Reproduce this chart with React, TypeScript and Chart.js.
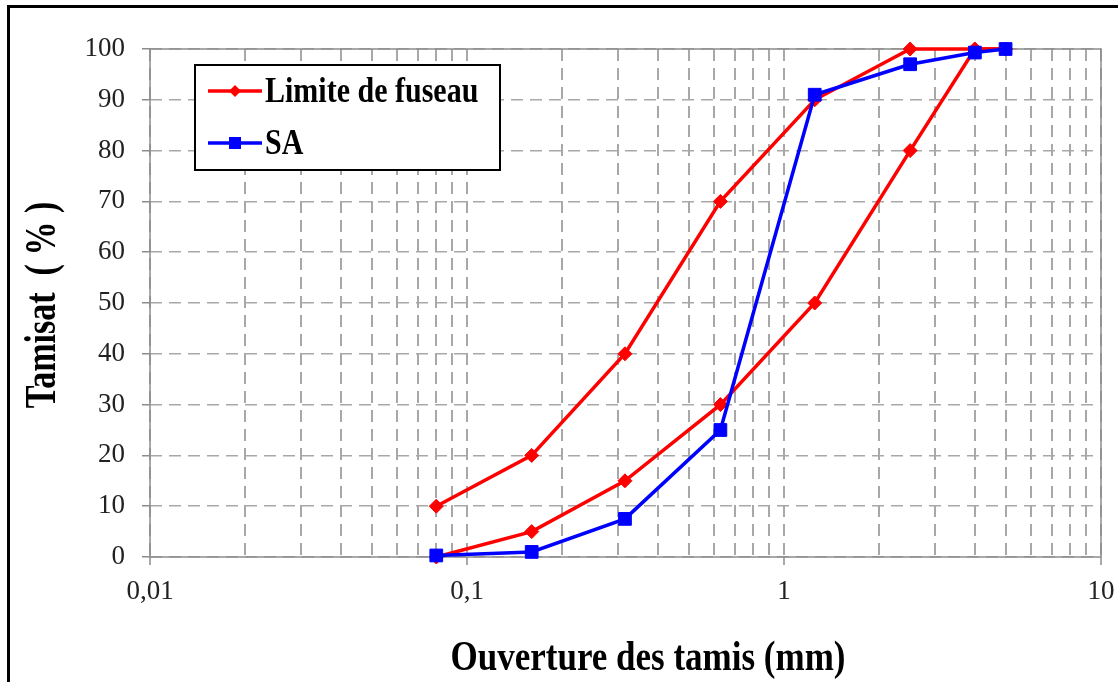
import React, { useEffect, useRef } from 'react';
import { Chart, registerables } from 'chart.js';

Chart.register(...registerables);

// ---- data ----
const sieveOpenings = [0.08, 0.16, 0.315, 0.63, 1.25, 2.5, 4, 5];
const upperLimit = [10, 20, 40, 70, 90, 100, 100, 100];
const lowerLimit = [0, 5, 15, 30, 50, 80, 100, 100];
const saPassing = [0.3, 1, 7.5, 25, 91, 97, 99.3, 100];

const xDecades = [0.01, 0.1, 1, 10];
const xDecadeLabels = ['0,01', '0,1', '1', '10'];

const limitName = 'Limite de fuseau';
const saName = 'SA';
const xTitle = 'Ouverture des tamis (mm)';
const yTitle = 'Tamisat  ( % )';

const RED = '#ff0000';
const BLUE = '#0000ff';
const SERIF = "'Liberation Serif', 'Times New Roman', serif";

function drawStretched(
  ctx: CanvasRenderingContext2D,
  text: string,
  x: number,
  y: number,
  font: string,
  sy: number,
  align: CanvasTextAlign,
  rotate: boolean
) {
  ctx.save();
  ctx.translate(x, y);
  if (rotate) ctx.rotate(-Math.PI / 2);
  ctx.scale(1, sy);
  ctx.font = font;
  ctx.textAlign = align;
  ctx.textBaseline = 'alphabetic';
  ctx.fillStyle = '#000';
  ctx.fillText(text, 0, 0);
  ctx.restore();
}

const plotBorderPlugin = {
  id: 'plotBorder',
  beforeDatasetsDraw(chart: any) {
    const { ctx, chartArea } = chart;
    ctx.save();
    ctx.strokeStyle = '#8c8c8c';
    ctx.lineWidth = 1.5;
    ctx.setLineDash([]);
    ctx.strokeRect(chartArea.left, chartArea.top, chartArea.right - chartArea.left, chartArea.bottom - chartArea.top);
    ctx.restore();
  },
};

const decorPlugin = {
  id: 'decor',
  afterDraw(chart: any) {
    const ctx: CanvasRenderingContext2D = chart.ctx;
    // outer black frame (left and top edges visible)
    ctx.save();
    ctx.strokeStyle = '#000';
    ctx.lineWidth = 3;
    ctx.beginPath();
    ctx.moveTo(8.5, 682);
    ctx.lineTo(8.5, 6.5);
    ctx.lineTo(1118, 6.5);
    ctx.stroke();
    ctx.restore();

    // axis titles
    drawStretched(ctx, xTitle, 648, 670, `bold 35px ${SERIF}`, 1.2, 'center', false);
    drawStretched(ctx, yTitle, 55, 305, `bold 34px ${SERIF}`, 1.3, 'center', true);

    // legend box
    const bx = 195, by = 65, bw = 305, bh = 105;
    ctx.save();
    ctx.fillStyle = '#fff';
    ctx.fillRect(bx, by, bw, bh);
    ctx.strokeStyle = '#000';
    ctx.lineWidth = 2;
    ctx.strokeRect(bx, by, bw, bh);
    ctx.restore();

    const entries = chart.data.datasets.filter((d: any) => !d.hideInLegend);
    const ordered = [...entries].sort((a: any, b: any) => a.legendOrder - b.legendOrder);
    const rowsY = [91, 143];
    ordered.forEach((ds: any, i: number) => {
      const y = rowsY[i];
      ctx.save();
      ctx.strokeStyle = ds.borderColor;
      ctx.lineWidth = 3.5;
      ctx.beginPath();
      ctx.moveTo(208, y);
      ctx.lineTo(262, y);
      ctx.stroke();
      ctx.fillStyle = ds.backgroundColor;
      ctx.beginPath();
      if (ds.pointStyle === 'rect') {
        ctx.rect(235 - 6, y - 6, 12, 12);
      } else {
        ctx.moveTo(235, y - 6);
        ctx.lineTo(241, y);
        ctx.lineTo(235, y + 6);
        ctx.lineTo(229, y);
        ctx.closePath();
      }
      ctx.fill();
      ctx.restore();
      drawStretched(ctx, ds.label, 265, y + 11, `bold 30px ${SERIF}`, 1.18, 'left', false);
    });
  },
};

export default function App() {
  const ref = useRef<HTMLCanvasElement>(null);

  useEffect(() => {
    const canvas = ref.current;
    if (!canvas) return;
    const pts = (ys: number[]) => sieveOpenings.map((x, i) => ({ x, y: ys[i] }));

    const chart = new Chart(canvas, {
      type: 'line',
      data: {
        datasets: [
          {
            label: saName,
            data: pts(saPassing),
            borderColor: BLUE,
            backgroundColor: BLUE,
            pointBackgroundColor: BLUE,
            pointBorderColor: BLUE,
            pointStyle: 'rect',
            pointRadius: 9,
            pointBorderWidth: 1,
            borderWidth: 3.5,
            tension: 0,
            clip: false,
            legendOrder: 2,
          } as any,
          {
            label: limitName,
            data: pts(upperLimit),
            borderColor: RED,
            backgroundColor: RED,
            pointBackgroundColor: RED,
            pointBorderColor: RED,
            pointStyle: 'rectRot',
            pointRadius: 7,
            pointBorderWidth: 1,
            borderWidth: 3.5,
            tension: 0,
            clip: false,
            legendOrder: 1,
          } as any,
          {
            label: limitName,
            data: pts(lowerLimit),
            borderColor: RED,
            backgroundColor: RED,
            pointBackgroundColor: RED,
            pointBorderColor: RED,
            pointStyle: 'rectRot',
            pointRadius: 7,
            pointBorderWidth: 1,
            borderWidth: 3.5,
            tension: 0,
            clip: false,
            hideInLegend: true,
          } as any,
        ],
      },
      options: {
        responsive: false,
        animation: false,
        events: [],
        layout: { padding: { left: 0, top: 49, right: 17, bottom: 0 } },
        plugins: {
          legend: { display: false },
          tooltip: { enabled: false },
          title: { display: false },
        },
        scales: {
          x: {
            type: 'logarithmic',
            min: 0.01,
            max: 10,
            afterBuildTicks: (scale: any) => {
              const t: { value: number }[] = [];
              for (let e = -2; e < 1; e++) {
                for (let m = 1; m < 10; m++) {
                  t.push({ value: Number((m * Math.pow(10, e)).toPrecision(3)) });
                }
              }
              t.push({ value: 10 });
              scale.ticks = t;
            },
            afterFit: (scale: any) => {
              scale.height = 125;
              scale.paddingLeft = 0;
              scale.paddingRight = 0;
            },
            ticks: {
              autoSkip: false,
              maxRotation: 0,
              minRotation: 0,
              padding: 11,
              color: '#222',
              font: { family: SERIF, size: 27 },
              callback: (value: any) => {
                const v = Number(value);
                const i = xDecades.findIndex((d) => Math.abs(d - v) < 1e-9);
                return i >= 0 ? xDecadeLabels[i] : '';
              },
            },
            grid: {
              color: '#a8a8a8',
              lineWidth: 2,
              tickLength: 8,
              tickWidth: 1.5,
              tickColor: (ctx: any) => {
                const v = ctx.tick ? ctx.tick.value : 0;
                return xDecades.some((d) => Math.abs(d - v) < 1e-9) ? '#8c8c8c' : 'rgba(0,0,0,0)';
              },
            },
            border: { display: false, dash: [12, 7] },
          } as any,
          y: {
            type: 'linear',
            min: 0,
            max: 100,
            afterFit: (scale: any) => {
              scale.width = 150;
            },
            ticks: {
              stepSize: 10,
              padding: 17,
              color: '#222',
              font: { family: SERIF, size: 27 },
            },
            grid: {
              color: '#a8a8a8',
              lineWidth: 1.5,
              tickLength: 8,
              tickWidth: 1.5,
              tickColor: '#8c8c8c',
            },
            border: { display: false, dash: [12, 7] },
          } as any,
        },
      },
      plugins: [plotBorderPlugin, decorPlugin],
    });

    return () => chart.destroy();
  }, []);

  return (
    <div style={{ position: 'absolute', left: 0, top: 0, width: 1118, height: 682, background: '#fff' }}>
      <canvas ref={ref} width={1118} height={682} style={{ display: 'block', width: 1118, height: 682 }} />
    </div>
  );
}
